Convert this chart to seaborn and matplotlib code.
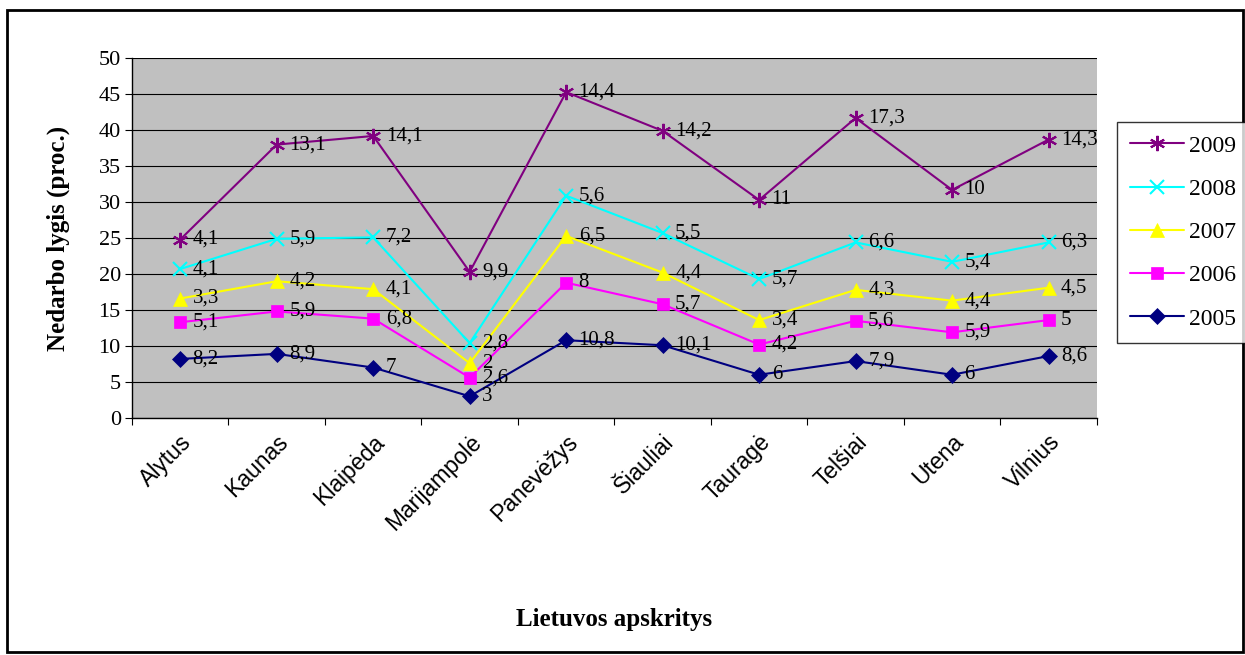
import matplotlib
matplotlib.use("Agg")
import matplotlib.pyplot as plt
import seaborn as sns
import pandas as pd
import numpy as np
from matplotlib.patches import Rectangle

# Data (values per year; chart stacks them)
regions = ["Alytus", "Kaunas", "Klaipėda", "Marijampolė", "Panevėžys",
           "Šiauliai", "Tauragė", "Telšiai", "Utena", "Vilnius"]
v2005 = [8.2, 8.9, 7, 3, 10.8, 10.1, 6, 7.9, 6, 8.6]
v2006 = [5.1, 5.9, 6.8, 2.6, 8, 5.7, 4.2, 5.6, 5.9, 5]
v2007 = [3.3, 4.2, 4.1, 2, 6.5, 4.4, 3.4, 4.3, 4.4, 4.5]
v2008 = [4.1, 5.9, 7.2, 2.8, 5.6, 5.5, 5.7, 6.6, 5.4, 6.3]
v2009 = [4.1, 13.1, 14.1, 9.9, 14.4, 14.2, 11, 17.3, 10, 14.3]

years = ["2005", "2006", "2007", "2008", "2009"]
series = [v2005, v2006, v2007, v2008, v2009]
colors = {"2005": "#000080", "2006": "#FF00FF", "2007": "#FFFF00",
          "2008": "#00FFFF", "2009": "#800080"}
markers = {"2005": "D", "2006": "s", "2007": "^", "2008": "x", "2009": (6, 2, 0)}
msizes = {"2005": 8, "2006": 9, "2007": 10, "2008": 10, "2009": 11}

sns.set_style("white")
plt.rcParams["font.family"] = ["Liberation Serif", "DejaVu Serif"]
plt.rcParams.update({"text.color": "black", "axes.labelcolor": "black",
                     "xtick.color": "black", "ytick.color": "black"})

fig = plt.figure(figsize=(12.45, 6.55), dpi=100)
ax = fig.add_axes([0.106, 0.362, 0.775, 0.549])
ax.set_facecolor("#C0C0C0")

x = np.arange(len(regions))
cum = np.zeros(len(regions))
rows = []
for yr, vals in zip(years, series):
    cum = cum + np.array(vals)
    for i, (c, v) in enumerate(zip(cum, vals)):
        rows.append({"x": i, "y": c, "val": v, "year": yr})
df = pd.DataFrame(rows)

for yr in years:
    d = df[df.year == yr]
    mk = markers[yr]
    lw_m = 1.5 if yr in ("2008", "2009") else 0.5
    sns.lineplot(data=d, x="x", y="y", ax=ax, color=colors[yr], lw=1.5,
                 marker=mk, markersize=msizes[yr], markeredgecolor=colors[yr],
                 markeredgewidth=lw_m, label=yr, legend=False)
    for _, r in d.iterrows():
        txt = f"{r.val:g}".replace(".", ",")
        ax.annotate(txt, (r.x, r.y), xytext=(9, 0), textcoords="offset points",
                    va="center", ha="left", fontsize=15)

ax.set_xlim(-0.5, 9.5)
ax.set_ylim(0, 50)
ax.set_yticks(range(0, 51, 5))
ax.yaxis.grid(True, color="black", lw=0.8)
ax.set_axisbelow(True)
ax.set_xticks(np.arange(-0.5, 10, 1), minor=False)
ax.set_xticklabels([])
ax.set_xticks(x, minor=True)
ax.set_xticklabels(regions, minor=True, rotation=45, ha="right",
                   rotation_mode="anchor", fontsize=16.5, family="Liberation Sans")
ax.tick_params(axis="x", which="minor", length=0, pad=9)
ax.tick_params(axis="x", which="major", length=5, color="black", direction="out")
ax.tick_params(axis="y", length=5, color="black", direction="out", labelsize=16, pad=3)
ax.tick_params(axis="both", bottom=True, left=True)
for s in ["top", "right"]:
    ax.spines[s].set_visible(False)
for s in ["left", "bottom"]:
    ax.spines[s].set_color("black")
    ax.spines[s].set_linewidth(1)

ax.set_xlabel("Lietuvos apskritys", fontsize=18, fontweight="bold")
ax.set_ylabel("Nedarbo lygis (proc.)", fontsize=18, fontweight="bold")
ax.xaxis.set_label_coords(0.5, -0.53)
ax.yaxis.set_label_coords(-0.064, 0.5)

handles, labels = ax.get_legend_handles_labels()
leg = fig.legend(handles[::-1], labels[::-1], loc="upper left",
                 bbox_to_anchor=(1117 / 1245, 1 - 122 / 655), fontsize=17,
                 frameon=True, fancybox=False, edgecolor="black",
                 handlelength=2.3, labelspacing=0.92, borderpad=0.55,
                 handletextpad=0.2, borderaxespad=0)
leg.get_frame().set_linewidth(1)

fig.patches.append(Rectangle((0.006, 0.004), 0.992, 0.98, transform=fig.transFigure,
                             fill=False, edgecolor="black", lw=2))

fig.savefig("out.png", dpi=100)
